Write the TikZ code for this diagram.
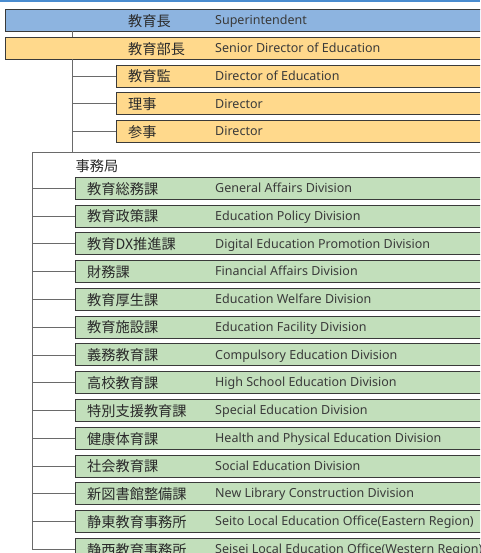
\documentclass[tikz,border=0pt]{standalone}
\usepackage{fontspec}
\setmainfont{Noto Sans}
\newfontfamily\jpfont{Noto Sans CJK JP}
\newfontfamily\enfont{Noto Sans}
\definecolor{topblue}{HTML}{4A8CD0}
\definecolor{bluefill}{HTML}{8DB4E0}
\definecolor{orangefill}{HTML}{FFD98C}
\definecolor{greenfill}{HTML}{C2DFBB}
\definecolor{boxline}{HTML}{3A3A3A}
\definecolor{connline}{HTML}{6A6A6A}
\definecolor{jptext}{HTML}{2A2A2A}
\definecolor{entext}{HTML}{3A3A3A}
\tikzset{
  box/.style={draw=boxline, line width=0.9pt, minimum height=22pt, minimum width=500pt,
    anchor=north west, inner sep=0pt, outer sep=0pt},
  bluebox/.style={box, fill=bluefill},
  orangebox/.style={box, fill=orangefill},
  greenbox/.style={box, fill=greenfill},
  jp/.style={anchor=base west, yshift=-5.8pt, font=\jpfont\fontsize{14.2}{14.2}\selectfont, text=jptext, inner sep=0pt},
  en/.style={anchor=base west, yshift=-4.2pt, font=\enfont\fontsize{12.5}{12.5}\selectfont, text=entext, inner sep=0pt},
  conn/.style={draw=connline, line width=0.8pt},
}
\begin{document}
\begin{tikzpicture}[x=1pt,y=-1pt]
\useasboundingbox (0,0) rectangle (480,553);
\clip (0,0) rectangle (480,553);
\fill[topblue] (0,0) rectangle (480,1.6);
% top boxes
\node[bluebox] (sup) at (5,9.5) {};
\node[jp] (supj) at (128,20.5) {教育長};
\node[en] (supe) at (215,20.5) {Superintendent};
\node[orangebox] (sde) at (5,37.3) {};
\node[jp] (sdej) at (128,48.3) {教育部長};
\node[en] (sdee) at (215,48.3) {Senior Director of Education};
\node[orangebox] (doe) at (116,65.1) {};
\node[jp] (doej) at (128,76.1) {教育監};
\node[en] (doee) at (215,76.1) {Director of Education};
\node[orangebox] (dir1) at (116,92.9) {};
\node[jp] (dir1j) at (128,103.9) {理事};
\node[en] (dir1e) at (215,103.9) {Director};
\node[orangebox] (dir2) at (116,120.7) {};
\node[jp] (dir2j) at (128,131.7) {参事};
\node[en] (dir2e) at (215,131.7) {Director};
% connectors top
\coordinate (va) at (72.3,37.3);
\coordinate (vb) at (72.3,59.3);
\coordinate (vc) at (72.3,152);
\draw[conn] (sup.south -| va) -- (va);
\draw[conn] (vb) -- (vc);
\draw[conn] (doe.west -| vb) -- (doe.west);
\draw[conn] (dir1.west -| vb) -- (dir1.west);
\draw[conn] (dir2.west -| vb) -- (dir2.west);
% secretariat frame
\coordinate (fr) at (485,152);
\coordinate (fl) at (32,152);
\node[jp, yshift=5.8pt] (jim) at (75.5,171.5) {事務局};
\foreach \jp/\en [count=\i from 0] in {
  教育総務課/General Affairs Division,
  教育政策課/Education Policy Division,
  教育DX推進課/Digital Education Promotion Division,
  財務課/Financial Affairs Division,
  教育厚生課/Education Welfare Division,
  教育施設課/Education Facility Division,
  義務教育課/Compulsory Education Division,
  高校教育課/High School Education Division,
  特別支援教育課/Special Education Division,
  健康体育課/Health and Physical Education Division,
  社会教育課/Social Education Division,
  新図書館整備課/New Library Construction Division,
  静東教育事務所/Seito Local Education Office{(}Eastern Region{)},
  静西教育事務所/Seisei Local Education Office{(}Western Region{)}}
{
  \pgfmathsetmacro{\yt}{177.3+27.77*\i}
  \pgfmathsetmacro{\yc}{\yt+11}
  \node[greenbox] (g\i) at (75,\yt) {};
  \node[jp] (gj\i) at (87,\yc) {\jp};
  \node[en] (ge\i) at (215,\yc) {\en};
  \draw[conn] (g\i.west -| fl) -- (g\i.west);
}
\draw[conn] (fr) -- (fl) -- (g13.west -| fl);
\end{tikzpicture}
\end{document}
